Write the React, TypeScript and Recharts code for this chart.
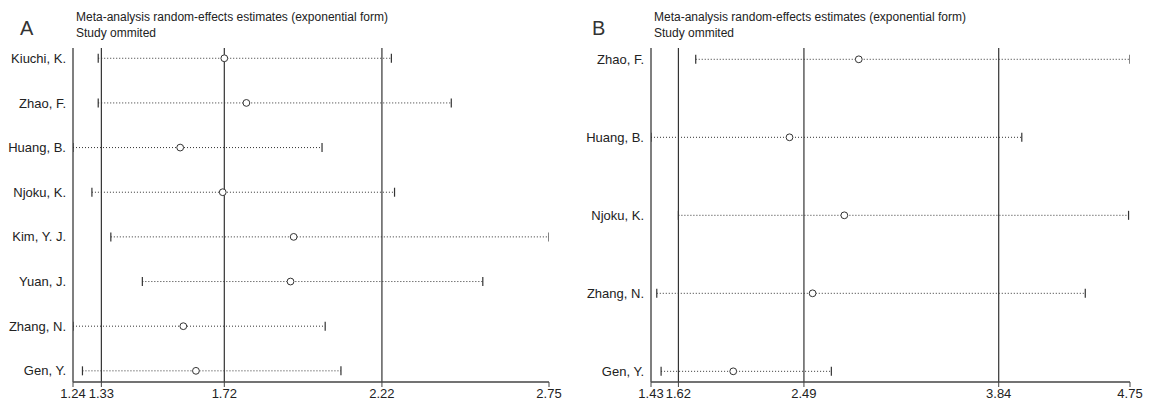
import { ScatterChart, Scatter, XAxis, YAxis, ReferenceLine } from "recharts";

// Panel A: study omitted, all eight studies
const namesA = ["Kiuchi, K.", "Zhao, F.", "Huang, B.", "Njoku, K.", "Kim, Y. J.", "Yuan, J.", "Zhang, N.", "Gen, Y."];
const estA = [1.72, 1.79, 1.58, 1.715, 1.94, 1.93, 1.59, 1.63];
const lowA = [1.32, 1.32, 1.24, 1.3, 1.36, 1.46, 1.24, 1.27];
const highA = [2.25, 2.44, 2.03, 2.26, 2.75, 2.54, 2.04, 2.09];
const ticksA = [1.24, 1.33, 1.72, 2.22, 2.75];
const overallA = [1.33, 1.72, 2.22];

// Panel B: five studies
const namesB = ["Zhao, F.", "Huang, B.", "Njoku, K.", "Zhang, N.", "Gen, Y."];
const estB = [2.87, 2.39, 2.77, 2.55, 2.0];
const lowB = [1.74, 1.43, 1.62, 1.47, 1.5];
const highB = [4.75, 4.0, 4.74, 4.44, 2.68];
const ticksB = [1.43, 1.62, 2.49, 3.84, 4.75];
const overallB = [1.62, 2.49, 3.84];

const FONT = "'Liberation Sans', Arial, Helvetica, sans-serif";
const INK = "#333";

const Cap = (p: any) => (
  <line x1={p.cx} x2={p.cx} y1={p.cy - 4.5} y2={p.cy + 4.5} stroke={INK} strokeWidth={1.2} />
);

const Dot = (p: any) => (
  <circle cx={p.cx} cy={p.cy} r={3.4} fill="#fff" stroke={INK} strokeWidth={1} />
);

type PanelProps = {
  names: string[];
  est: number[];
  low: number[];
  high: number[];
  ticks: number[];
  overall: number[];
  width: number;
  yAxisWidth: number;
  right: number;
  yDomain: [number, number];
};

function Panel({ names, est, low, high, ticks, overall, width, yAxisWidth, right, yDomain }: PanelProps) {
  const rows = names.map((_, i) => i);
  return (
    <ScatterChart width={width} height={405} margin={{ top: 48, right, bottom: 0, left: 0 }}>
      <XAxis
        type="number"
        dataKey="x"
        domain={[ticks[0], ticks[ticks.length - 1]]}
        ticks={ticks}
        interval={0}
        allowDataOverflow
        tickFormatter={(v: number) => v.toFixed(2)}
        height={23}
        tickSize={5}
        tickMargin={2}
        axisLine={{ stroke: "#444", strokeWidth: 1.3 }}
        tickLine={{ stroke: "#444" }}
        tick={{ fill: "#222", fontSize: 13, fontFamily: FONT }}
      />
      <YAxis
        type="number"
        dataKey="row"
        domain={yDomain}
        reversed
        ticks={rows}
        interval={0}
        allowDataOverflow
        tickFormatter={(i: number) => names[i]}
        width={yAxisWidth}
        tickLine={false}
        tickSize={5}
        tickMargin={2}
        axisLine={{ stroke: "#555", strokeWidth: 1.5 }}
        tick={{ fill: "#222", fontSize: 13, fontFamily: FONT }}
      />
      {names.map((n, i) => (
        <Scatter
          key={n}
          data={[
            { x: low[i], row: i },
            { x: high[i], row: i },
          ]}
          line={{ stroke: INK, strokeWidth: 1, strokeDasharray: "1 2" }}
          lineType="joint"
          shape={Cap}
          isAnimationActive={false}
        />
      ))}
      <Scatter data={est.map((v, i) => ({ x: v, row: i }))} shape={Dot} isAnimationActive={false} />
      {overall.map((v) => (
        <ReferenceLine key={v} x={v} stroke={INK} strokeWidth={1.2} />
      ))}
    </ScatterChart>
  );
}

const titleStyle = (left: number): React.CSSProperties => ({
  position: "absolute",
  left,
  top: 9,
  fontSize: 12,
  lineHeight: "16px",
  color: "#222",
  fontFamily: FONT,
});

const letterStyle = (left: number): React.CSSProperties => ({
  position: "absolute",
  left,
  top: 14,
  fontSize: 20,
  lineHeight: "28px",
  color: "#333",
  fontFamily: FONT,
});

export default function App() {
  return (
    <div style={{ position: "absolute", left: 0, top: 0, width: 1152, height: 405, background: "#fff" }}>
      <div style={{ position: "absolute", left: 0, top: 0 }}>
        <Panel
          names={namesA}
          est={estA}
          low={lowA}
          high={highA}
          ticks={ticksA}
          overall={overallA}
          width={580}
          yAxisWidth={73}
          right={31}
          yDomain={[-0.23, 7.25]}
        />
      </div>
      <div style={{ position: "absolute", left: 580, top: 0 }}>
        <Panel
          names={namesB}
          est={estB}
          low={lowB}
          high={highB}
          ticks={ticksB}
          overall={overallB}
          width={572}
          yAxisWidth={71}
          right={22}
          yDomain={[-0.145, 4.137]}
        />
      </div>
      <div style={letterStyle(20)}>A</div>
      <div style={letterStyle(592)}>B</div>
      <div style={titleStyle(76)}>
        Meta-analysis random-effects estimates (exponential form)
        <br />
        Study ommited
      </div>
      <div style={titleStyle(654)}>
        Meta-analysis random-effects estimates (exponential form)
        <br />
        Study ommited
      </div>
    </div>
  );
}
